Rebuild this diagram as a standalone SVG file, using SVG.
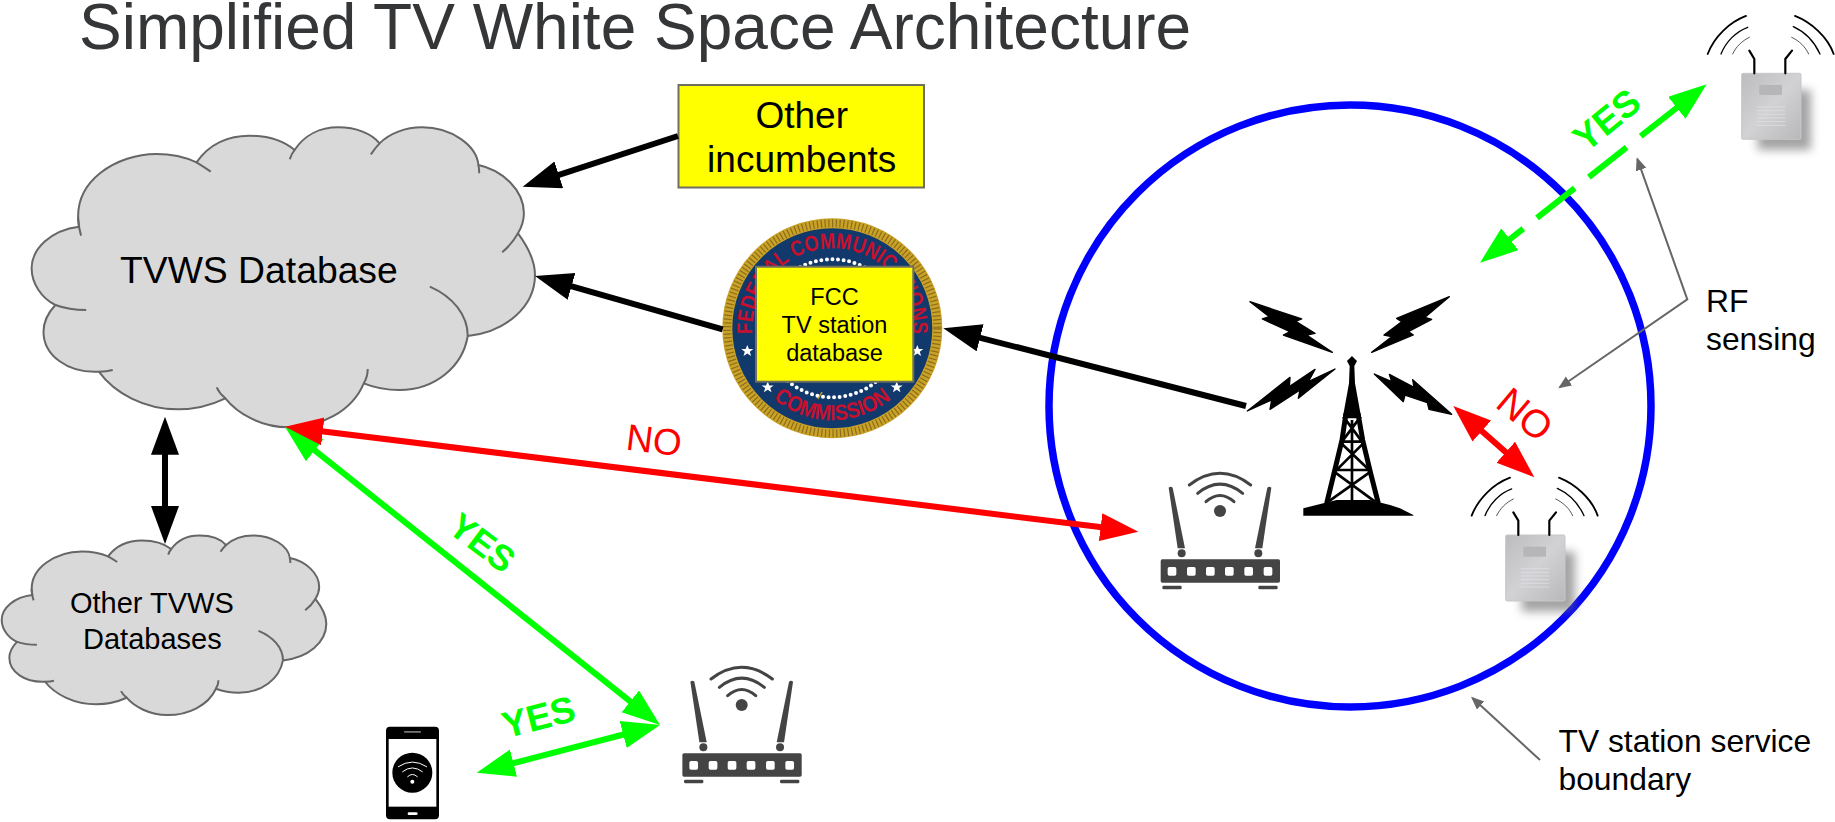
<svg xmlns="http://www.w3.org/2000/svg" xmlns:xlink="http://www.w3.org/1999/xlink" width="1835" height="822" viewBox="0 0 1835 822">
<style>
text{font-family:"Liberation Sans",Arial,sans-serif;fill:#000}
.cl{fill:#d9d9d9;stroke:#666;stroke-width:2;vector-effect:non-scaling-stroke}
.clt{fill:none;stroke:#666;stroke-width:2;vector-effect:non-scaling-stroke}
.box{fill:#ffff00;stroke:#6f6f5f;stroke-width:2}
.thick{fill:none;stroke-width:6}
.k{stroke:#000;marker-start:url(#hk);marker-end:url(#hk)}
.r{stroke:#f00;marker-start:url(#hr);marker-end:url(#hr)}
.g{stroke:#0f0;marker-start:url(#hg);marker-end:url(#hg)}
.gy{fill:none;stroke:#666;stroke-width:2;marker-end:url(#hy)}
.rt{fill:#444}
.wa{fill:none;stroke:#444;stroke-width:9;stroke-linecap:round}
.sw{fill:none;stroke:#000;stroke-linecap:round}
.vent{stroke:#dcdce0;stroke-width:3}
.seal{fill:#c8102e;font-weight:bold}
.gt{fill:#0f0;font-weight:bold}
.rd{fill:#f00}
</style>
<defs>
<marker id="hk" markerUnits="userSpaceOnUse" markerWidth="40" markerHeight="30" refX="28" refY="14" orient="auto-start-reverse"><path d="M0,0L38,14L0,28Z" fill="#000"/></marker>
<marker id="hr" markerUnits="userSpaceOnUse" markerWidth="40" markerHeight="30" refX="28" refY="14" orient="auto-start-reverse"><path d="M0,0L38,14L0,28Z" fill="#f00"/></marker>
<marker id="hg" markerUnits="userSpaceOnUse" markerWidth="40" markerHeight="30" refX="28" refY="14" orient="auto-start-reverse"><path d="M0,0L38,14L0,28Z" fill="#0f0"/></marker>
<marker id="hy" markerUnits="userSpaceOnUse" markerWidth="16" markerHeight="12" refX="11" refY="5.5" orient="auto-start-reverse"><path d="M0,0L13,5.5L0,11Z" fill="#666"/></marker>
<linearGradient id="apg" x1="0" y1="0" x2="1" y2="1"><stop offset="0" stop-color="#bcbcbe"/><stop offset=".5" stop-color="#d2d2d5"/><stop offset="1" stop-color="#b8b8ba"/></linearGradient>
<filter id="bl" x="-30%" y="-30%" width="160%" height="160%"><feGaussianBlur stdDeviation="14"/></filter>
<path id="star" d="M0,-6L1.6,-1.9L6,-1.9L2.5,.8L3.8,5L0,2.5L-3.8,5L-2.5,.8L-6,-1.9L-1.6,-1.9Z" fill="#fff"/>
<g id="cloudShape">
<path class="cl" d="M200,680C180,540 300,462 395,462C430,462 470,472 497,487C530,430 580,407 630,407C680,407 720,425 745,450C770,405 810,382 855,382C900,382 940,400 960,430C985,400 1025,382 1068,382C1140,382 1205,435 1210,495C1270,510 1325,570 1325,640C1325,660 1320,680 1310,700C1335,740 1353,780 1353,825C1353,920 1280,995 1183,1008C1170,1100 1100,1170 1010,1170C975,1170 945,1162 920,1150C890,1235 810,1282 730,1282C660,1282 600,1240 570,1195C535,1215 495,1228 450,1228C365,1228 290,1180 250,1115C170,1120 110,1065 110,995C110,965 122,938 140,915C105,895 80,850 80,805C80,745 130,690 200,680Z"/>
<path class="clt" d="M197,650Q198,680 205,707M497,487Q515,500 533,515M745,450Q737,462 733,478M960,430Q948,445 938,463M1210,495Q1212,508 1212,520M1310,700Q1295,732 1270,757M1183,1008C1183,945 1145,890 1087,860M920,1150Q930,1130 930,1107M570,1195Q555,1180 548,1162M250,1115Q270,1115 285,1110M140,915Q175,930 218,930"/>
</g>
<g id="router" transform="scale(.33333)">
<rect class="rt" x="92" y="838" width="358" height="70" rx="5"/>
<rect class="rt" x="97" y="917" width="58" height="11" rx="4"/>
<rect class="rt" x="385" y="917" width="58" height="11" rx="4"/>
<g fill="#fff"><rect x="113" y="861" width="26" height="26" rx="5"/><rect x="171" y="861" width="26" height="26" rx="5"/><rect x="228" y="861" width="26" height="26" rx="5"/><rect x="285" y="861" width="26" height="26" rx="5"/><rect x="343" y="861" width="26" height="26" rx="5"/><rect x="401" y="861" width="26" height="26" rx="5"/></g>
<path class="rt" d="M116,623Q122,618 128,623L165,805H143Z"/>
<path class="rt" d="M424,623Q418,618 412,623L375,805H397Z"/>
<circle class="rt" cx="155" cy="820" r="12"/><circle class="rt" cx="385" cy="820" r="12"/>
<circle class="rt" cx="270" cy="693" r="18"/>
<path class="wa" d="M228,665Q270,628 312,665M203,640Q270,585 338,640M178,615Q270,545 362,615"/>
</g>
<g id="ap" transform="scale(.33333)">
<rect x="1175" y="815" width="160" height="180" fill="#666" opacity=".6" filter="url(#bl)"/>
<rect x="1127" y="765" width="178" height="198" rx="4" fill="url(#apg)" stroke="#c8c8ca" stroke-width="3"/>
<rect x="1180" y="800" width="68" height="30" fill="#b6b6b9"/>
<path class="vent" d="M1172,866H1258M1172,877H1258M1172,888H1258M1172,899H1258M1172,910H1258M1172,921H1258"/>
<path class="sw" stroke-width="6.5" d="M1150,697L1165,722V765M1278,697L1258,722V765"/>
<path class="sw" stroke-width="5.5" d="M1025,707C1045,655 1090,612 1140,593M1403,707C1385,655 1335,612 1287,593"/>
<path class="sw" stroke-width="4" d="M1065,707C1080,670 1110,640 1145,627M1362,707C1345,670 1315,640 1282,625"/>
<path class="sw" stroke-width="2" d="M1100,707C1110,685 1128,668 1150,657M1328,707C1318,685 1300,668 1277,657"/>
</g>
</defs>
<rect width="1835" height="822" fill="#fff"/>
<text id="title" x="79" y="49" font-size="64" style="fill:#353638">Simplified TV White Space Architecture</text>

<g id="boundary"><circle cx="1350" cy="406" r="301" fill="none" stroke="#00f" stroke-width="7.5"/></g>

<g id="tvws-database">
<use href="#cloudShape" transform="scale(.3954,.33333)"/>
<text x="120" y="283" font-size="37.3">TVWS Database</text>
</g>
<g id="other-databases">
<use href="#cloudShape" transform="translate(-18.7,459.2) scale(.255,.1996)"/>
<text x="70" y="612.5" font-size="29">Other TVWS</text>
<text x="83" y="648.5" font-size="29">Databases</text>
</g>
<g id="other-incumbents">
<rect class="box" x="678.5" y="85" width="245.5" height="102.5"/>
<text x="801.7" y="128" font-size="37" text-anchor="middle">Other</text>
<text x="801.7" y="171.5" font-size="37" text-anchor="middle">incumbents</text>
</g>
<g id="fcc">
<circle cx="832.3" cy="328.3" r="105" fill="#12396b" stroke="#c9a227" stroke-width="10"/>
<circle cx="832.3" cy="328.3" r="105" fill="none" stroke="#8a6d1a" stroke-width="8" stroke-dasharray="1.2 2.6"/>
<circle cx="832.3" cy="328.3" r="69" fill="none" stroke="#fff" stroke-width="4" stroke-linecap="round" stroke-dasharray="0 5.6"/>
<path id="sealTop" d="M753.5,342.2A80,80 0 1 1 911.1,342.2" fill="none"/>
<path id="sealBot" d="M740.3,328.3A92,92 0 0 0 924.3,328.3" fill="none"/>
<text class="seal" font-size="22" text-anchor="middle" textLength="262" lengthAdjust="spacingAndGlyphs"><textPath href="#sealTop" startOffset="50%">FEDERAL COMMUNICATIONS</textPath></text>
<text class="seal" font-size="22" text-anchor="middle" textLength="128" lengthAdjust="spacingAndGlyphs"><textPath href="#sealBot" startOffset="50%">COMMISSION</textPath></text>
<use href="#star" x="747.3" y="351"/><use href="#star" x="917.3" y="351"/><use href="#star" x="767.7" y="387.3"/><use href="#star" x="896.7" y="387.3"/>
<path d="M822,392L818,399" stroke="#c9a227" stroke-width="1.5"/>
<rect class="box" x="756" y="266.7" width="157.3" height="115"/>
<text x="834.5" y="305" font-size="23.5" text-anchor="middle">FCC</text>
<text x="834.5" y="333" font-size="23.5" text-anchor="middle">TV station</text>
<text x="834.5" y="361" font-size="23.5" text-anchor="middle">database</text>
</g>
<g id="tower" transform="translate(1130,280) scale(.33333)">
<g fill="#000" stroke="#000" stroke-width="4" stroke-linejoin="round">
<path d="M360,65L515,117L497,124L555,160L530,165L607,217L460,165L480,155L397,117L418,110Z"/>
<path d="M958,50L800,115L815,125L762,165L785,170L725,217L850,165L835,155L905,118L885,112Z"/>
<path d="M352,393L480,292L478,320L555,268L535,305L615,267L505,355L510,330L420,388L425,360Z"/>
<path d="M733,282L785,305L778,283L852,322L848,299L965,403L897,388L892,368L825,345L820,365Z"/>
</g>
<g fill="#000">
<path d="M666,228L681,243L673,258L675,310L694,415H638L657,310L659,258L651,243Z"/>
<path d="M520,707V685L580,670L620,660H720L780,675L810,685L850,705V707Z"/>
</g>
<path fill="none" stroke="#000" stroke-width="15" d="M648,400L636,480L612,580L590,670M684,400L698,480L722,580L745,670"/>
<path fill="none" stroke="#000" stroke-width="8" d="M666,420V665M640,410H692M632,485H702M620,570H720M640,410L700,490M692,410L632,490M632,488L720,572M702,488L618,572M612,575L735,665M722,575L595,665"/>
</g>
<use id="router-in" href="#router" transform="translate(1130,280)"/>
<use id="router-out" href="#router" transform="translate(651.7,474)"/>
<use id="ap-in" href="#ap" transform="translate(1130,280)"/>
<use id="ap-out" href="#ap" transform="translate(1366,-181.7)"/>
<g id="phone" transform="translate(340,620) scale(.33333)">
<rect x="138" y="320" width="159" height="278" rx="12" fill="#000"/>
<rect x="146" y="357" width="143" height="203" fill="#fff"/>
<rect x="192" y="333" width="51" height="5" rx="2" fill="#777"/>
<rect x="203" y="577" width="30" height="8" rx="4" fill="#fff"/>
<circle cx="217" cy="458" r="60" fill="#000"/>
<circle cx="217" cy="485" r="6" fill="#fff"/>
<path fill="none" stroke="#fff" stroke-width="3" stroke-linecap="round" d="M175,440Q217,412 260,440M188,455Q217,432 247,455M203,470Q217,456 232,470"/>
</g>

<g id="connectors">
<line class="thick k" x1="678" y1="136" x2="532.2" y2="183.6" style="marker-start:none"/>
<line class="thick k" x1="722.7" y1="329.3" x2="544.6" y2="278.7" style="marker-start:none"/>
<line class="thick k" x1="1246" y1="406" x2="953" y2="330.8" style="marker-start:none"/>
<line class="thick k" x1="165" y1="426.7" x2="165" y2="534"/>
<line class="thick g" x1="292.8" y1="432.9" x2="652.2" y2="718.8"/>
<line class="thick r" x1="295" y1="427.9" x2="1128.4" y2="530.5"/>
<line class="thick g" x1="650.3" y1="727.5" x2="486.4" y2="770.2"/>
<line class="thick r" x1="1460.8" y1="412.6" x2="1526.8" y2="470.7"/>
<line class="thick g" x1="1487.9" y1="256.5" x2="1698.8" y2="90.5" stroke-dasharray="45 17.5 48 18 48 18 200"/>
<polyline class="gy" points="1637.4,159.2 1687.3,299.3 1559.9,387.2" style="marker-start:url(#hy)"/>
<line class="gy" x1="1540" y1="760" x2="1472.5" y2="698"/>
</g>

<g id="labels">
<text class="rd" x="625" y="449.5" font-size="37" transform="rotate(7 625 449.5)">NO</text>
<text class="rd" x="1494" y="406" font-size="39" transform="rotate(40 1494 406)">NO</text>
<text class="gt" x="446" y="531" font-size="36" transform="rotate(37 446 531)">YES</text>
<text class="gt" x="506" y="738.5" font-size="37" transform="rotate(-14.5 506 738.5)">YES</text>
<text class="gt" x="1586" y="153" font-size="37" transform="rotate(-39 1586 153)">YES</text>
<text x="1706" y="311.5" font-size="31.8">RF</text>
<text x="1706" y="350" font-size="31.8">sensing</text>
<text x="1558.5" y="751.5" font-size="31.8">TV station service</text>
<text x="1558.5" y="790" font-size="31.8">boundary</text>
</g>
</svg>
